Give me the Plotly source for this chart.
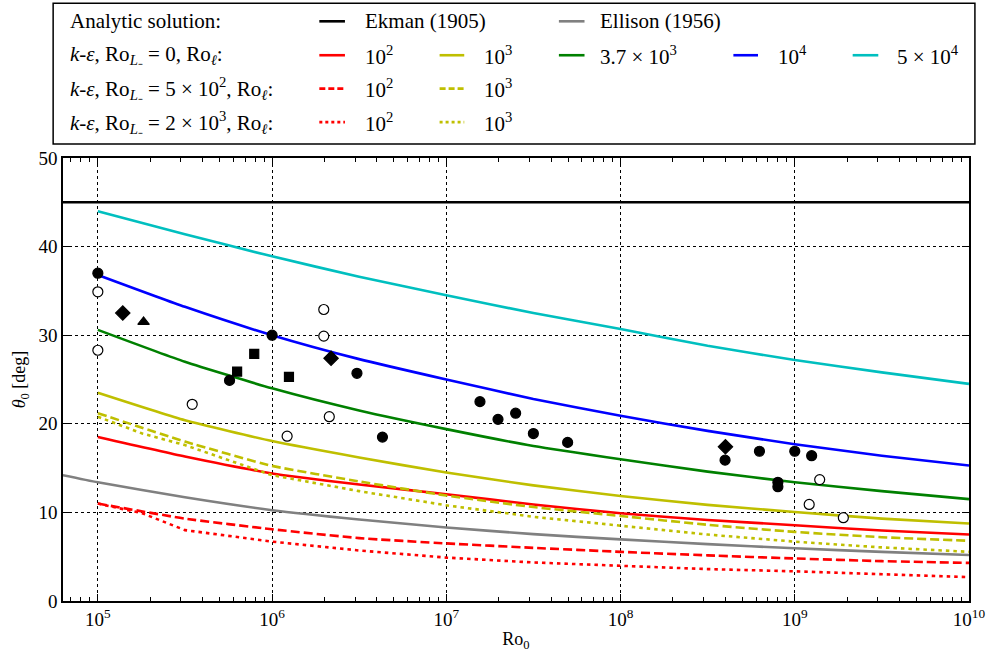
import plotly.graph_objects as go

# ---------------- data ----------------
ro0 = [1e5, 3.16e5, 1e6, 3.16e6, 1e7, 3.16e7, 1e8, 3.16e8, 1e9, 3.16e9, 1e10]

ekman_x = [6.3e4, 1e10]
ekman_y = [45, 45]

ellison_x = [6.3e4, 1e5, 3.16e5, 1e6, 3.16e6, 1e7, 3.16e7, 1e8, 3.16e8, 1e9, 3.16e9, 1e10]
ellison_y = [14.2, 13.4, 11.7, 10.25, 9.2, 8.3, 7.55, 6.95, 6.42, 5.95, 5.55, 5.2]

ke0_1e2 = [18.5, 16.3, 14.4, 13.15, 12.05, 10.9, 9.9, 9.15, 8.55, 7.95, 7.5]
ke0_1e3 = [23.5, 20.4, 18.05, 16.2, 14.5, 13.05, 11.85, 10.85, 10.05, 9.3, 8.75]
ke0_37e3 = [30.6, 27.0, 24.0, 21.5, 19.4, 17.5, 16.0, 14.6, 13.4, 12.4, 11.5]
ke0_1e4 = [36.8, 33.2, 30.0, 27.3, 25.0, 22.8, 20.9, 19.2, 17.7, 16.4, 15.3]
ke0_5e4 = [44.0, 41.4, 38.9, 36.6, 34.5, 32.5, 30.7, 28.8, 27.2, 25.8, 24.5]

ke500_1e2 = [11.0, 9.3, 8.1, 7.1, 6.5, 6.0, 5.55, 5.15, 4.8, 4.5, 4.3]
ke500_1e3 = [21.2, 18.0, 15.25, 13.5, 11.9, 10.6, 9.6, 8.6, 7.8, 7.2, 6.8]

ke2000_x = [1e5, 1.8e5, 3.16e5, 1e6, 3.16e6, 1e7, 3.16e7, 1e8, 3.16e8, 1e9, 3.16e9, 1e10]
ke2000_1e2 = [11.0, 9.9, 8.0, 6.7, 5.7, 4.9, 4.35, 3.95, 3.6, 3.35, 3.0, 2.7]
ke2000_1e3 = [20.8, 18.9, 17.6, 14.2, 12.4, 10.8, 9.5, 8.5, 7.5, 6.7, 6.05, 5.55]

filled_x = [1e5, 5.7e5, 1e6, 3.07e6, 4.3e6, 1.56e7, 1.98e7, 2.5e7, 3.16e7, 4.97e7,
            3.98e8, 6.27e8, 1.0e9, 1.25e9, 8.0e8, 8.0e8]
filled_y = [37.0, 24.9, 30.0, 25.7, 18.5, 22.5, 20.5, 21.2, 18.9, 17.9,
            15.9, 16.9, 16.9, 16.4, 13.4, 12.9]

open_x = [1e5, 1e5, 3.48e5, 1.98e6, 1.98e6, 2.13e6, 1.22e6, 1.39e9, 1.21e9, 1.9e9]
open_y = [34.9, 28.3, 22.2, 32.9, 29.9, 20.8, 18.6, 13.7, 10.9, 9.4]

square_x = [6.3e5, 7.9e5, 1.25e6]
square_y = [25.9, 27.9, 25.3]

diamond_x = [1.39e5, 2.18e6, 4.0e8]
diamond_y = [32.5, 27.4, 17.4]

triangle_x = [1.83e5]
triangle_y = [31.5]

xtick_vals = [1e5, 1e6, 1e7, 1e8, 1e9, 1e10]
xtick_text = ["10<sup>5</sup>", "10<sup>6</sup>", "10<sup>7</sup>", "10<sup>8</sup>",
              "10<sup>9</sup>", "10<sup>10</sup>"]
ytick_vals = [0, 10, 20, 30, 40, 50]

# ---------------- style ----------------
RED = "#ff0000"
YEL = "#bfbf00"
GRN = "#008000"
BLU = "#0000ff"
CYN = "#00bfbf"
GRY = "#808080"
LW = 2.6
DASH = "9px,4px"
DOT = "3.5px,4px"
FONT = "Liberation Serif"

W, H = 998, 658
L, R, T, B = 63, 16, 158, 56
PW, PH = W - L - R, H - T - B


def px(xp):
    return (xp - L) / PW


def py(yp):
    return (H - B - yp) / PH


fig = go.Figure()


def line(x, y, color, dash="solid", shape="spline"):
    fig.add_trace(go.Scatter(x=x, y=y, mode="lines", showlegend=False,
                             line=dict(color=color, width=LW, dash=dash, shape=shape, smoothing=0.5),
                             hoverinfo="skip"))


line(ekman_x, ekman_y, "black")
line(ellison_x, ellison_y, GRY)
line(ro0, ke0_1e2, RED)
line(ro0, ke0_1e3, YEL)
line(ro0, ke0_37e3, GRN)
line(ro0, ke0_1e4, BLU)
line(ro0, ke0_5e4, CYN)
line(ro0, ke500_1e2, RED, DASH)
line(ro0, ke500_1e3, YEL, DASH)
line(ke2000_x, ke2000_1e2, RED, DOT, "linear")
line(ke2000_x, ke2000_1e3, YEL, DOT, "linear")


def pts(x, y, symbol, size, fill="black"):
    fig.add_trace(go.Scatter(x=x, y=y, mode="markers", showlegend=False,
                             marker=dict(symbol=symbol, size=size, color=fill,
                                         line=dict(color="black", width=1.2))))


pts(filled_x, filled_y, "circle", 10)
pts(open_x, open_y, "circle", 10, "white")
pts(square_x, square_y, "square", 9)
pts(diamond_x, diamond_y, "diamond", 11)
pts(triangle_x, triangle_y, "triangle-up", 10)

# ---------------- legend box (manual grid) ----------------
shapes = [dict(type="rect", xref="paper", yref="paper",
               x0=px(53), x1=px(988), y0=py(144), y1=py(3),
               line=dict(color="black", width=1.5), fillcolor="white", layer="below")]
annotations = []

rows = [21, 55, 88.5, 122]
row_labels = [
    "Analytic solution:",
    "<i>k</i>-<i>ε</i>, Ro<sub><i>L</i>₋</sub> = 0, Ro<sub><i>ℓ</i></sub>:",
    "<i>k</i>-<i>ε</i>, Ro<sub><i>L</i>₋</sub> = 5 × 10<sup>2</sup>, Ro<sub><i>ℓ</i></sub>:",
    "<i>k</i>-<i>ε</i>, Ro<sub><i>L</i>₋</sub> = 2 × 10<sup>3</sup>, Ro<sub><i>ℓ</i></sub>:",
]
for r, t in zip(rows, row_labels):
    annotations.append(dict(x=px(68), y=py(r), xref="paper", yref="paper", text=t,
                            showarrow=False, xanchor="left", yanchor="middle",
                            font=dict(family=FONT, size=21, color="black")))

cols = [(323, 349, 367), (445, 470, 488), (566, 592, 606), (743, 768, 786), (864, 890, 907)]
entries = [
    (0, 0, "black", "solid", "Ekman (1905)"),
    (0, 2, GRY, "solid", "Ellison (1956)"),
    (1, 0, RED, "solid", "10<sup>2</sup>"),
    (1, 1, YEL, "solid", "10<sup>3</sup>"),
    (1, 2, GRN, "solid", "3.7 × 10<sup>3</sup>"),
    (1, 3, BLU, "solid", "10<sup>4</sup>"),
    (1, 4, CYN, "solid", "5 × 10<sup>4</sup>"),
    (2, 0, RED, "dash", "10<sup>2</sup>"),
    (2, 1, YEL, "dash", "10<sup>3</sup>"),
    (3, 0, RED, "dot", "10<sup>2</sup>"),
    (3, 1, YEL, "dot", "10<sup>3</sup>"),
]
for ri, ci, color, d, text in entries:
    x0, x1, xt = cols[ci]
    yy = py(rows[ri])
    dd = {"solid": "solid", "dash": "6px,3px", "dot": "3px,3px"}[d]
    shapes.append(dict(type="line", xref="paper", yref="paper", x0=px(x0), x1=px(x1),
                       y0=yy, y1=yy, line=dict(color=color, width=LW, dash=dd)))
    annotations.append(dict(x=px(xt), y=yy, xref="paper", yref="paper", text=text,
                            showarrow=False, xanchor="left", yanchor="middle",
                            font=dict(family=FONT, size=21, color="black")))

minor_vals = [m * 10 ** e for e in range(4, 10) for m in range(2, 10)]

fig.update_layout(
    width=W, height=H, autosize=False,
    margin=dict(l=L, r=R, t=T, b=B),
    paper_bgcolor="white", plot_bgcolor="white",
    font=dict(family=FONT, size=18, color="black"),
    shapes=shapes, annotations=annotations,
    xaxis=dict(type="log", range=[4.8, 10], tickvals=xtick_vals, ticktext=xtick_text,
               ticks="inside", ticklen=7, tickwidth=1.2, tickcolor="black",
               showline=True, linecolor="black", linewidth=1.6, mirror="allticks",
               showgrid=True, gridcolor="black", griddash="dot", gridwidth=1,
               zeroline=False, tickfont=dict(family=FONT, size=19),
               ticklabeloverflow="allow",
               minor=dict(tickvals=minor_vals, ticks="inside", ticklen=4,
                          tickcolor="black", tickwidth=1, showgrid=False),
               title=dict(text="Ro<sub>0</sub>", font=dict(family=FONT, size=18), standoff=4)),
    yaxis=dict(range=[0, 50], tickvals=ytick_vals,
               ticks="inside", ticklen=7, tickwidth=1.2, tickcolor="black",
               showline=True, linecolor="black", linewidth=1.6, mirror="allticks",
               showgrid=True, gridcolor="black", griddash="dot", gridwidth=1,
               zeroline=False, tickfont=dict(family=FONT, size=19),
               title=dict(text="<i>θ</i><sub>0</sub> [deg]", font=dict(family=FONT, size=18), standoff=8)),
)

post = (
    "document.documentElement.style.overflow='hidden';"
    "document.body.style.margin='0';document.body.style.overflow='hidden';"
)

fig.write_html("out.html", config={"displayModeBar": False, "responsive": False},
               post_script=post)
